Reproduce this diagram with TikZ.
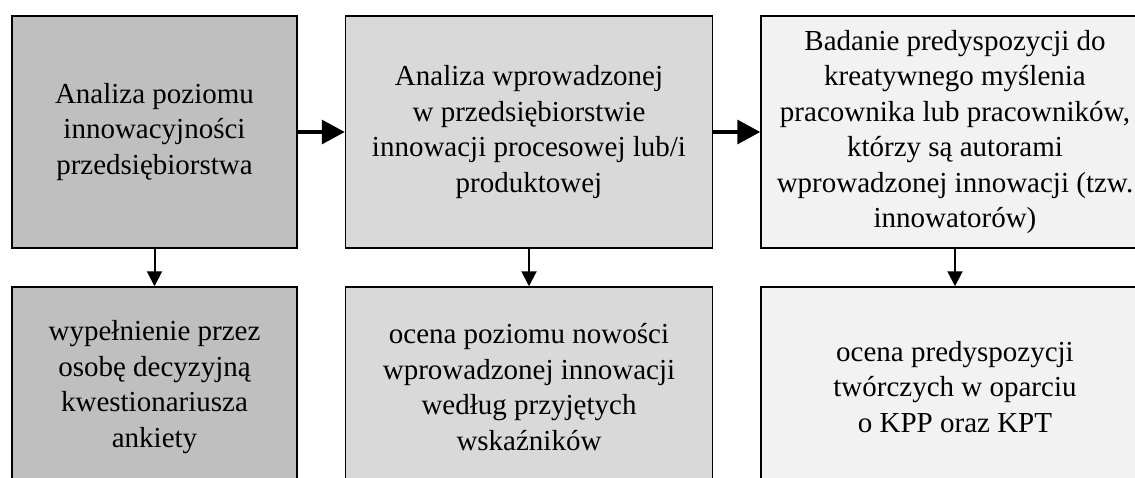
\documentclass[tikz,border=0pt]{standalone}
\usepackage{fontspec}
\setmainfont{Liberation Serif}
\usetikzlibrary{arrows.meta}
\definecolor{darkgrey}{gray}{0.75}
\definecolor{midgrey}{gray}{0.85}
\definecolor{lightgrey}{gray}{0.95}
\tikzstyle{stage}=[draw, line width=1.5pt, inner sep=0pt, align=center, minimum height=232pt, font=\fontsize{29pt}{35.4pt}\selectfont]
\tikzstyle{task}=[stage, minimum height=200pt]
\tikzstyle{flow}=[line width=3.3pt, -{Triangle[length=23pt, width=24pt]}]
\tikzstyle{detail}=[line width=2pt, -{Triangle[length=15pt, width=15pt]}]

\begin{document}
\begin{tikzpicture}[x=1pt, y=-1pt]
      \path[use as bounding box, clip] (0, 0) rectangle (1135, 477);

      \node[stage, fill=darkgrey, minimum width=285pt] (level) at (154.5, 132)
        {Analiza poziomu\\innowacyjności\\przedsiębiorstwa};
      \node[stage, fill=midgrey, minimum width=367pt] (innovation) at (529, 132)
        {Analiza wprowadzonej\\w przedsiębiorstwie\\innowacji procesowej lub/i\\produktowej};
      \node[stage, fill=lightgrey, minimum width=388pt] (creativity) at (955, 132)
        {Badanie predyspozycji do\\kreatywnego myślenia\\pracownika lub pracowników,\\którzy są autorami\\wprowadzonej innowacji (tzw.\\innowatorów)};

      \node[task, fill=darkgrey, minimum width=285pt] (survey) at (154.5, 387)
        {wypełnienie przez\\osobę decyzyjną\\kwestionariusza\\ankiety};
      \node[task, fill=midgrey, minimum width=367pt] (novelty) at (529, 387)
        {ocena poziomu nowości\\wprowadzonej innowacji\\według przyjętych\\wskaźników};
      \node[task, fill=lightgrey, minimum width=388pt] (aptitude) at (955, 387)
        {ocena predyspozycji\\twórczych w oparciu\\o KPP oraz KPT};

      \draw[flow] (level.east) -- (innovation.west);
      \draw[flow] (innovation.east) -- (creativity.west);

      \draw[detail] (level.south) -- (survey.north);
      \draw[detail] (innovation.south) -- (novelty.north);
      \draw[detail] (creativity.south) -- (aptitude.north);
    \end{tikzpicture}
\end{document}
